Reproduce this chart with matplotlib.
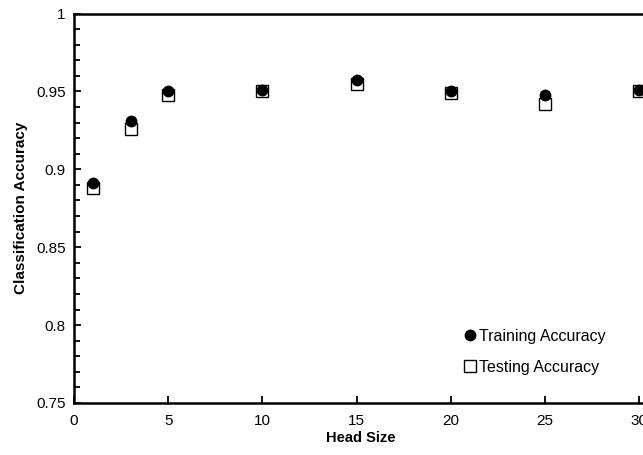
import matplotlib
matplotlib.use("Agg")
import matplotlib.pyplot as plt
from matplotlib.ticker import MultipleLocator

plt.rcParams['font.family'] = ['Liberation Sans', 'DejaVu Sans']

head_size = [1, 3, 5, 10, 15, 20, 25, 30]
training_acc = [0.891, 0.931, 0.950, 0.951, 0.957, 0.950, 0.948, 0.951]
testing_acc = [0.888, 0.926, 0.948, 0.950, 0.955, 0.949, 0.942, 0.950]
x_ticks = [0, 5, 10, 15, 20, 25, 30]
y_ticks = [0.75, 0.8, 0.85, 0.9, 0.95, 1.0]
y_labels = ['0.75', '0.8', '0.85', '0.9', '0.95', '1']

W, H = 643, 455
fig = plt.figure(figsize=(W / 100, H / 100), dpi=100)
x0, x30 = 74, 639
ytop, ybot = 13.5, 403
xmax = 30.4
width = (x30 - x0) / 30 * xmax
ax = fig.add_axes([x0 / W, (H - ybot) / H, width / W, (ybot - ytop) / H])

ax.plot(head_size, testing_acc, linestyle='none', marker='s', markersize=8,
        markerfacecolor='white', markeredgecolor='black', markeredgewidth=1.0,
        label='Testing Accuracy', zorder=3)
ax.plot(head_size, training_acc, linestyle='none', marker='o', markersize=7.5,
        markerfacecolor='black', markeredgecolor='black',
        label='Training Accuracy', zorder=4)

ax.set_xlim(0, xmax)
ax.set_ylim(0.75, 1.0)
ax.set_xticks(x_ticks)
ax.set_xticklabels([str(t) for t in x_ticks])
ax.set_yticks(y_ticks)
ax.set_yticklabels(y_labels)
ax.yaxis.set_minor_locator(MultipleLocator(0.01))

ax.tick_params(axis='both', which='major', direction='in', length=5, width=1.3,
               labelsize=11, colors='black')
ax.tick_params(axis='y', which='minor', direction='in', length=4, width=1.3)
ax.tick_params(axis='x', pad=8)
ax.tick_params(axis='y', pad=6)

for side in ['left', 'bottom', 'top']:
    ax.spines[side].set_linewidth(1.8)
ax.spines['right'].set_visible(False)

ax.set_xlabel('Head Size', fontsize=10.5, fontweight='bold', labelpad=2)
ax.set_ylabel('Classification Accuracy', fontsize=11, fontweight='bold', labelpad=6)

handles, labels = ax.get_legend_handles_labels()
leg = ax.legend(handles[::-1], labels[::-1], loc='lower left',
                bbox_to_anchor=((462 - x0) / width, (ybot - 375) / (ybot - ytop)),
                frameon=False, fontsize=11.5, handletextpad=0.05,
                handlelength=1.0, labelspacing=1.0, borderaxespad=0,
                borderpad=0)

fig.savefig('out.png', dpi=100)
